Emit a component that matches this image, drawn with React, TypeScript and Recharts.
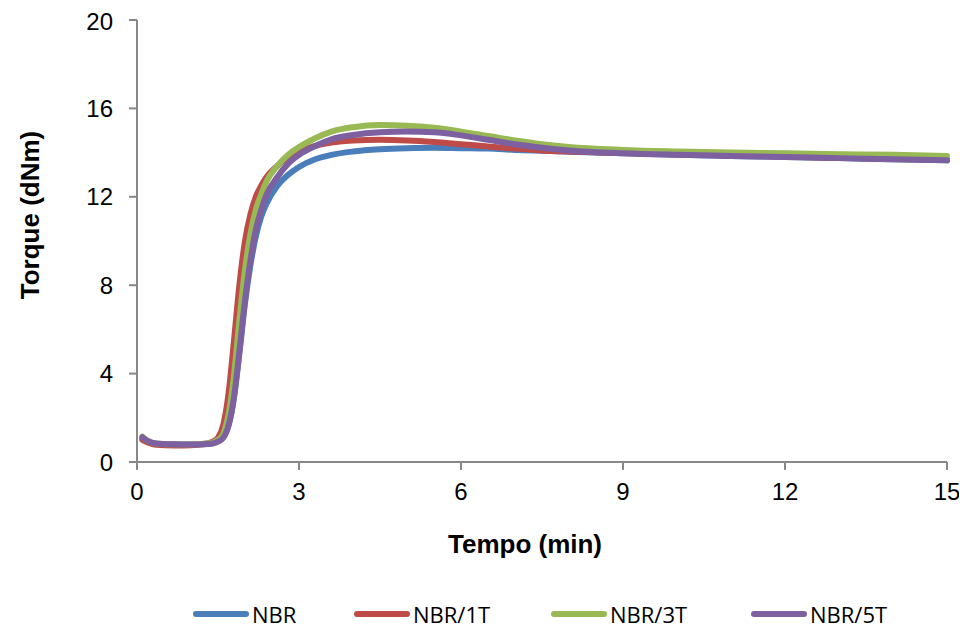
import { LineChart, Line, XAxis, YAxis, Legend, Label } from 'recharts'

// tempo (min)
const time = [
  0.1, 0.2, 0.35, 0.7, 1.0, 1.2, 1.4, 1.5, 1.6, 1.7, 1.8, 1.9, 2.0, 2.1, 2.2, 2.3, 2.4, 2.6, 2.8,
  3.0, 3.3, 3.6, 4.0, 4.5, 5.0, 5.5, 6.0, 6.5, 7.0, 7.5, 8.0, 9, 10, 11, 12, 13, 14, 15,
]

// torque (dNm)
const nbr = [
  1.05, 0.92, 0.82, 0.78, 0.78, 0.8, 0.85, 0.95, 1.15, 1.7, 3.0, 5.0, 7.2, 8.9, 10.2, 11.1, 11.7, 12.5, 13.0,
  13.35, 13.7, 13.9, 14.05, 14.15, 14.2, 14.22, 14.2, 14.18, 14.12, 14.08, 14.04, 13.97, 13.9, 13.85, 13.8, 13.75, 13.7, 13.65,
]
const nbr1t = [
  1.0, 0.88, 0.78, 0.75, 0.76, 0.8, 0.92, 1.1, 1.7, 3.2, 5.6, 8.1, 10.0, 11.2, 12.0, 12.5, 12.9, 13.4, 13.8,
  14.05, 14.3, 14.45, 14.55, 14.58, 14.55, 14.48, 14.38, 14.28, 14.18, 14.1, 14.05, 13.98, 13.92, 13.87, 13.82, 13.77, 13.72, 13.68,
]
const nbr3t = [
  1.15, 0.95, 0.84, 0.8, 0.8, 0.82, 0.88, 1.0, 1.3, 2.2, 4.0, 6.5, 8.7, 10.3, 11.4, 12.1, 12.7, 13.4, 13.9,
  14.25, 14.65, 14.95, 15.15, 15.25, 15.22, 15.12, 14.95, 14.75, 14.55, 14.38, 14.25, 14.12, 14.05, 14.0, 13.97, 13.93, 13.9, 13.85,
]
const nbr5t = [
  1.12, 0.95, 0.84, 0.8, 0.79, 0.8, 0.84, 0.92, 1.1, 1.7, 3.0, 5.1, 7.3, 9.1, 10.5, 11.4, 12.1, 12.9, 13.5,
  13.9, 14.3, 14.6, 14.8, 14.92, 14.95, 14.92, 14.78, 14.58, 14.38, 14.22, 14.1, 13.97, 13.9, 13.85, 13.8, 13.75, 13.7, 13.65,
]

const xTicks = [0, 3, 6, 9, 12, 15]
const yTicks = [0, 4, 8, 12, 16, 20]

const series = [
  { key: 'nbr', name: 'NBR', color: '#4A7EBB', values: nbr },
  { key: 'nbr1t', name: 'NBR/1T', color: '#BE4B48', values: nbr1t },
  { key: 'nbr3t', name: 'NBR/3T', color: '#98B954', values: nbr3t },
  { key: 'nbr5t', name: 'NBR/5T', color: '#7D60A0', values: nbr5t },
]

const data = time.map((t, i) => {
  const row: Record<string, number> = { t }
  series.forEach(s => { row[s.key] = s.values[i] })
  return row
})

const axisColor = '#888888'
const tickFont = { fontFamily: '"Liberation Sans", Arial, sans-serif', fontSize: 24, fill: '#000' }
const titleFont = { fontFamily: '"Liberation Sans", Arial, sans-serif', fontSize: 26, fontWeight: 'bold' as const, fill: '#000' }

// legend item offsets from the legend's left edge
const itemOffsets = [0, 161, 358, 558]

function ChartLegend() {
  return (
    <svg width={720} height={30} style={{ display: 'block', overflow: 'visible' }}>
      {series.map((s, i) => (
        <g key={s.key} transform={`translate(${itemOffsets[i]},0)`}>
          <line x1={4} y1={15} x2={54} y2={15} stroke={s.color} strokeWidth={6} strokeLinecap="round" />
          <text
            x={60}
            y={15}
            dominantBaseline="central"
            style={{ fontFamily: '"Open Sans", sans-serif', fontSize: 22, fill: '#000' }}
          >
            {s.name}
          </text>
        </g>
      ))}
    </svg>
  )
}

export default function App() {
  return (
    <LineChart width={951} height={618} data={data} margin={{ top: 12, right: 12, left: 0, bottom: 104 }}>
      <XAxis
        dataKey="t"
        type="number"
        domain={[0, 15]}
        ticks={xTicks}
        stroke={axisColor}
        strokeWidth={2}
        tickSize={8}
        tickMargin={13}
        tick={tickFont}
        height={60}
      >
        <Label
          content={() => (
            <text x={517} y={536} textAnchor="middle" dominantBaseline="central" style={titleFont}>
              Tempo (min)
            </text>
          )}
        />
      </XAxis>
      <YAxis
        type="number"
        domain={[0, 20]}
        ticks={yTicks}
        stroke={axisColor}
        strokeWidth={2}
        tickSize={8}
        tickMargin={16}
        tick={tickFont}
        width={129}
      >
        <Label
          content={() => (
            <text
              x={22}
              y={207}
              textAnchor="middle"
              dominantBaseline="central"
              transform="rotate(-90 22 207)"
              style={titleFont}
            >
              Torque (dNm)
            </text>
          )}
        />
      </YAxis>
      <Legend
        verticalAlign="middle"
        content={() => <ChartLegend />}
        wrapperStyle={{ top: 591, left: 184, width: 720, height: 30 }}
      />
      {series.map(s => (
        <Line
          key={s.key}
          type="monotone"
          dataKey={s.key}
          name={s.name}
          stroke={s.color}
          strokeWidth={6}
          strokeLinecap="round"
          strokeLinejoin="round"
          dot={false}
          activeDot={false}
          isAnimationActive={false}
        />
      ))}
    </LineChart>
  )
}
